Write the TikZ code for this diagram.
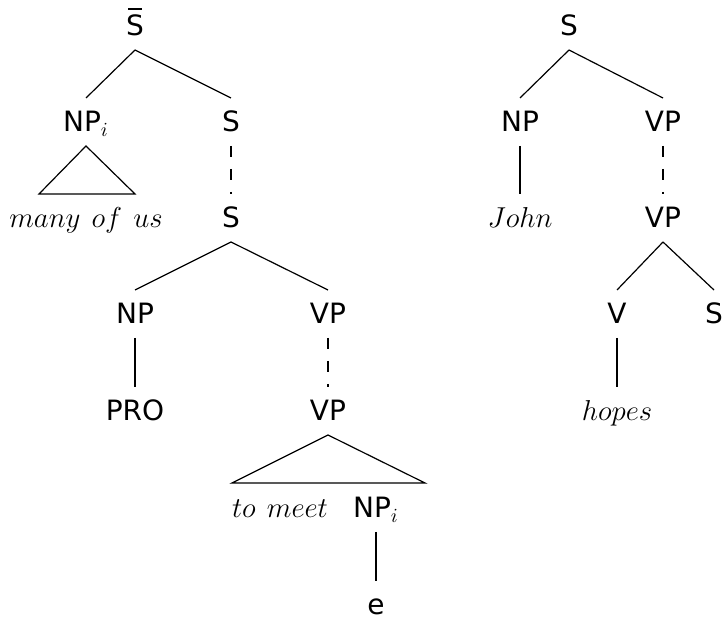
\documentclass[tikz,border=0pt]{standalone}
\usepackage{fontspec}
\newfontfamily\lab{DejaVu Sans}
\DeclareMathSizes{14}{14.4}{10}{7}
\usetikzlibrary{calc}
\tikzset{
  lbl/.style={anchor=base, inner sep=0pt, outer xsep=0pt, outer ysep=7pt, text height=10pt, text depth=0pt, font=\lab\fontsize{14}{16}\selectfont},
  edge/.style={line width=0.6pt},
  dedge/.style={line width=0.6pt, dash pattern=on 5.5pt off 6pt},
}
\begin{document}
\begin{tikzpicture}[x=0.5pt,y=-0.5pt]
\useasboundingbox (0,0) rectangle (723,619);
% left tree
\node[lbl] (sbar) at (135,36) {\makebox[0pt][l]{\hspace{1pt}\raisebox{13.2pt}{\rule{7pt}{0.9pt}}}S};
\node[lbl] (npi) at (86,132) {NP$_i$};
\node[lbl] (s1) at (231,132) {S};
\node[lbl] (many) at (86,228) {$many\hspace{0.4em}of\hspace{0.4em}us$};
\node[lbl] (s2) at (231,228) {S};
\node[lbl] (np2) at (135,324) {NP};
\node[lbl] (vp2) at (328,324) {VP};
\node[lbl] (pro) at (135,421) {PRO};
\node[lbl] (vp3) at (328,421) {VP};
\node[lbl] (tomeet) at (280,518) {$to\hspace{0.4em}meet$};
\node[lbl] (npi2) at (376,518) {NP$_i$};
\node[lbl] (e) at (376,615) {e};
\draw[edge] (sbar.south) -- (npi.north);
\draw[edge] (sbar.south) -- (s1.north);
\draw[dedge] (s1.south) -- (s2.north);
\draw[edge] (s2.south) -- (np2.north);
\draw[edge] (s2.south) -- (vp2.north);
\draw[edge] (np2.south) -- (pro.north);
\draw[dedge] (vp2.south) -- (vp3.north);
\draw[edge] (npi2.south) -- (e.north);
\draw[edge] (npi.south) -- ($(npi.south)+(-47,48)$) -- ($(npi.south)+(49,48)$) -- cycle;
\draw[edge] (vp3.south) -- ($(vp3.south)+(-96,48)$) -- ($(vp3.south)+(97,48)$) -- cycle;
% right tree
\node[lbl] (rs) at (569,36) {S};
\node[lbl] (rnp) at (520,132) {NP};
\node[lbl] (rvp) at (663,132) {VP};
\node[lbl] (john) at (520,228) {$John$};
\node[lbl] (rvp2) at (663,228) {VP};
\node[lbl] (v) at (617,324) {V};
\node[lbl] (rs2) at (714,324) {S};
\node[lbl] (hopes) at (617,421) {$hopes$};
\draw[edge] (rs.south) -- (rnp.north);
\draw[edge] (rs.south) -- (rvp.north);
\draw[edge] (rnp.south) -- (john.north);
\draw[dedge] (rvp.south) -- (rvp2.north);
\draw[edge] (rvp2.south) -- (v.north);
\draw[edge] (rvp2.south) -- (rs2.north);
\draw[edge] (v.south) -- (hopes.north);
\end{tikzpicture}
\end{document}
